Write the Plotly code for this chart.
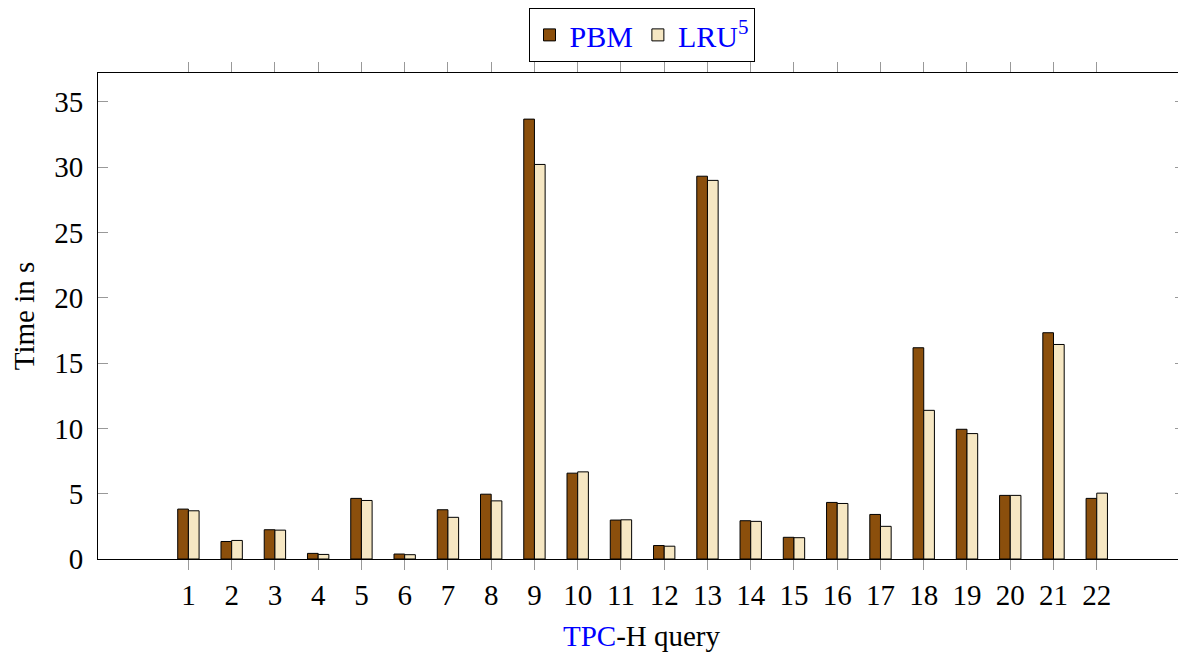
import plotly.graph_objects as go

queries = [str(i) for i in range(1, 23)]
query_pos = list(range(1, 23))
pbm = [3.82, 1.34, 2.24, 0.43, 4.64, 0.38, 3.77, 4.96, 33.67, 6.57, 2.98,
       1.03, 29.3, 2.93, 1.66, 4.33, 3.41, 16.17, 9.93, 4.87, 17.32, 4.64]
lru = [3.69, 1.42, 2.21, 0.35, 4.48, 0.33, 3.19, 4.45, 30.2, 6.67, 3.0,
       0.98, 28.98, 2.88, 1.63, 4.25, 2.50, 11.38, 9.60, 4.87, 16.42, 5.04]
y_ticks = [0, 5, 10, 15, 20, 25, 30, 35]

FONT = "Liberation Serif"
FS = 29

fig = go.Figure()
fig.add_trace(go.Bar(x=query_pos, y=pbm, name="PBM",
                     marker=dict(color="#8B4F0C", line=dict(color="black", width=1))))
fig.add_trace(go.Bar(x=query_pos, y=lru, name="LRU<sup>5</sup>",
                     marker=dict(color="#F6E7C3", line=dict(color="black", width=1))))

# page body has an 8px margin, so the figure is sized/offset to compensate
fig.update_layout(
    width=1178, height=647,
    margin=dict(l=90, r=1, t=65, b=96, autoexpand=False),
    plot_bgcolor="white", paper_bgcolor="white",
    barmode="group", bargap=0.506, bargroupgap=0,
    font=dict(family=FONT, size=FS, color="black"),
    showlegend=True,
    legend=dict(orientation="h", x=0.5, xanchor="center", y=1.134, yanchor="top",
                bordercolor="black", borderwidth=1, bgcolor="white",
                font=dict(color="blue", size=30, family=FONT),
                itemwidth=30, tracegroupgap=0),
    xaxis=dict(range=[-1.09, 24.04], tickmode="array", tickvals=query_pos, ticktext=queries,
               ticks="outside", ticklen=10, tickcolor="#999999", tickwidth=1,
               showline=True, linecolor="black", linewidth=1, mirror="ticks",
               showgrid=False, zeroline=False, automargin=False,
               tickfont=dict(size=FS, family=FONT),
               title=dict(text="<span style='color:blue'>TPC</span>-H query",
                          font=dict(size=FS, family=FONT))),
    yaxis=dict(range=[0, 37.2], tickmode="array", tickvals=y_ticks,
               ticks="inside", ticklen=10, tickcolor="#999999", tickwidth=1,
               ticklabelstandoff=8,
               showline=True, linecolor="black", linewidth=1, mirror="ticks",
               showgrid=False, zeroline=False, automargin=False,
               tickfont=dict(size=FS, family=FONT),
               title=dict(text="Time in s", font=dict(size=FS, family=FONT))),
)

fig.write_html("out.html")
